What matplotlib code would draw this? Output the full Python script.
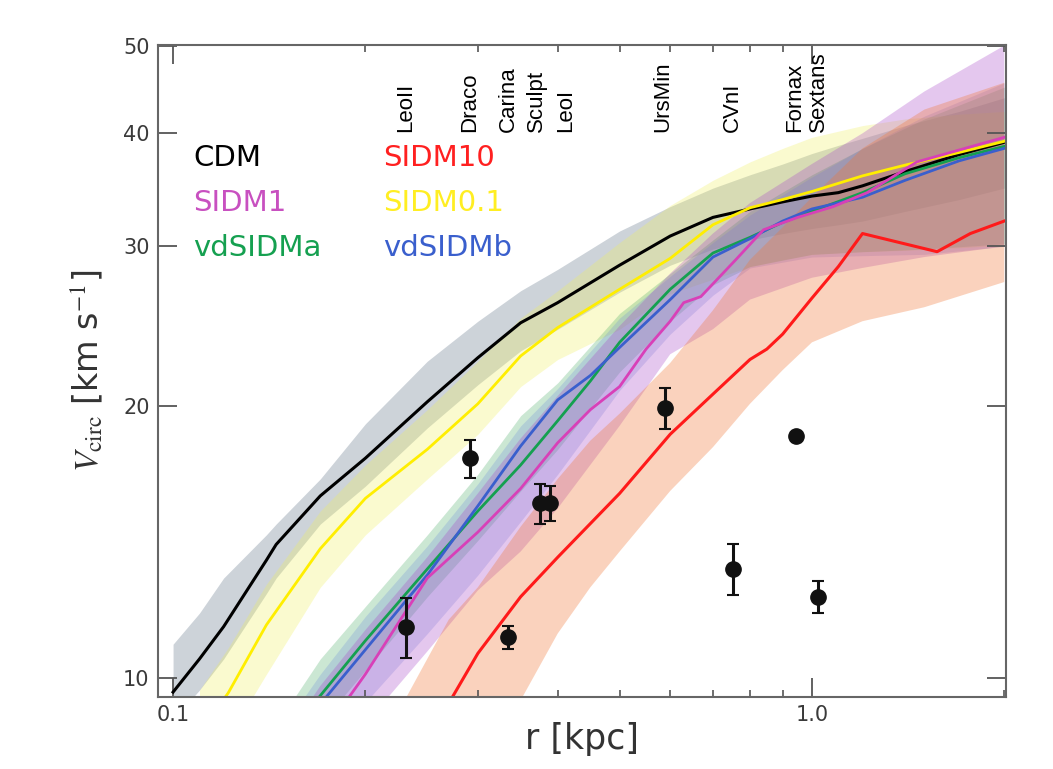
import matplotlib
matplotlib.use("Agg")
from matplotlib import pyplot as plt
from matplotlib.ticker import FixedLocator, FixedFormatter, NullLocator, NullFormatter

plt.rcParams['mathtext.fontset'] = 'stix'

# --- CDM ---
r_cdm = [0.1, 0.11, 0.12, 0.14, 0.145, 0.17, 0.2, 0.25, 0.3, 0.35, 0.4, 0.5, 0.6, 0.7, 0.8, 0.9, 1.0, 1.1, 1.2, 1.4, 1.7, 2.0]
v_cdm = [9.65, 10.5, 11.4, 13.5, 14.05, 15.9, 17.5, 20.2, 22.6, 24.7, 26.0, 28.6, 30.8, 32.3, 33.0, 33.6, 34.1, 34.4, 35.0, 36.3, 37.9, 39.1]
lo_cdm = [9.0, 9.7, 10.5, 12.4, 12.9, 14.8, 16.3, 18.9, 21.1, 23.0, 24.3, 26.7, 28.6, 29.8, 30.5, 31.0, 31.4, 31.7, 32.0, 32.8, 33.8, 34.8]
hi_cdm = [10.9, 11.8, 12.9, 14.4, 14.8, 16.6, 19.1, 22.4, 24.8, 26.8, 28.3, 31.2, 33.2, 34.8, 36.0, 37.0, 38.0, 38.8, 39.5, 40.8, 42.3, 43.8]

# --- SIDM0.1 ---
r_s01 = [0.11, 0.122, 0.14, 0.17, 0.2, 0.25, 0.3, 0.35, 0.4, 0.5, 0.6, 0.7, 0.8, 0.9, 1.0, 1.2, 1.4, 1.7, 2.0]
v_s01 = [8.7, 9.63, 11.45, 13.9, 15.8, 17.9, 20.1, 22.7, 24.4, 26.9, 29.1, 31.7, 33.1, 33.8, 34.5, 35.9, 36.9, 38.1, 39.2]
lo_s01 = [7.8, 8.6, 10.1, 12.6, 14.4, 16.6, 18.6, 21.0, 22.5, 24.3, 26.6, 27.6, 28.5, 29.0, 29.4, 29.6, 29.7, 29.9, 30.1]
hi_s01 = [9.7, 10.8, 12.7, 15.3, 17.2, 19.8, 22.4, 25.0, 26.8, 30.3, 33.3, 35.5, 37.2, 38.5, 39.6, 40.8, 41.5, 42.0, 42.3]

# --- SIDM10 ---
r_s10 = [0.25, 0.273, 0.3, 0.35, 0.4, 0.5, 0.6, 0.7, 0.8, 0.85, 0.9, 1.0, 1.1, 1.2, 1.57, 1.77, 2.0]
v_s10 = [8.8, 9.5, 10.65, 12.3, 13.6, 16.0, 18.6, 20.6, 22.5, 23.1, 24.0, 26.3, 28.5, 31.0, 29.6, 31.0, 32.0]
rb_s10 = [0.22, 0.27, 0.3, 0.35, 0.4, 0.45, 0.5, 0.6, 0.7, 0.8, 0.9, 1.0, 1.2, 1.5, 2.0]
lo_s10 = [6.4, 7.6, 8.2, 9.45, 11.2, 12.6, 13.8, 16.1, 18.0, 20.1, 21.9, 23.5, 24.8, 25.7, 27.4]
hi_s10 = [8.9, 11.6, 12.6, 14.7, 16.6, 18.3, 19.6, 22.3, 25.5, 29.0, 31.5, 34.0, 38.5, 42.5, 45.5]

# --- vdSIDMa ---
r_va = [0.15, 0.1687, 0.2, 0.25, 0.3, 0.35, 0.4, 0.45, 0.5, 0.6, 0.7, 0.8, 0.9, 1.0, 1.2, 1.4, 1.7, 2.0]
v_va = [8.4, 9.5, 11.0, 13.2, 15.3, 17.2, 19.25, 21.3, 23.5, 26.9, 29.5, 30.7, 31.9, 32.8, 34.4, 36.1, 37.6, 38.7]

# --- vdSIDMb ---
r_vb = [0.15, 0.173, 0.2, 0.25, 0.3, 0.35, 0.4, 0.45, 0.5, 0.6, 0.7, 0.8, 0.9, 1.0, 1.2, 1.4, 1.7, 2.0]
v_vb = [8.3, 9.5, 10.75, 13.0, 15.5, 18.05, 20.3, 21.6, 23.2, 26.2, 29.2, 30.6, 32.0, 33.0, 34.0, 35.5, 37.3, 38.5]

# --- SIDM1 ---
r_s1 = [0.17, 0.188, 0.2, 0.25, 0.3, 0.35, 0.4, 0.45, 0.5, 0.55, 0.6, 0.63, 0.67, 0.76, 0.84, 0.95, 1.08, 1.22, 1.46, 2.0]
v_s1 = [8.6, 9.5, 10.1, 12.9, 14.5, 16.2, 18.2, 19.8, 21.0, 23.1, 24.8, 26.0, 26.4, 29.0, 31.3, 32.3, 33.2, 34.4, 37.2, 39.6]

# bandas de vdSIDMa, vdSIDMb y SIDM1
r_band = [0.15, 0.17, 0.2, 0.25, 0.3, 0.35, 0.4, 0.5, 0.6, 0.7, 0.8, 1.0, 1.2, 1.5, 2.0]
lo_va = [7.8, 8.9, 10.2, 12.3, 14.2, 16.1, 17.9, 21.8, 24.8, 27.2, 28.5, 29.4, 29.6, 29.8, 30.2]
hi_va = [9.2, 10.5, 12.0, 14.4, 16.8, 19.5, 21.2, 25.3, 28.0, 30.5, 32.8, 36.0, 38.5, 41.5, 45.0]
lo_vb = [7.0, 8.0, 9.4, 11.2, 13.0, 14.9, 16.8, 20.8, 24.0, 26.5, 28.4, 29.2, 29.3, 29.4, 30.0]
hi_vb = [8.9, 10.1, 11.7, 14.0, 16.4, 19.0, 20.9, 25.0, 27.8, 30.3, 32.5, 35.8, 38.5, 41.8, 45.5]
lo_s1 = [7.0, 7.9, 8.9, 10.7, 12.5, 13.8, 15.4, 19.0, 22.8, 24.3, 26.2, 27.7, 28.4, 29.2, 30.0]
hi_s1 = [8.6, 9.8, 11.3, 13.6, 16.0, 18.4, 20.5, 24.5, 28.0, 31.0, 33.5, 37.0, 40.0, 44.5, 50.0]

# galaxias enanas
gal_names = ['LeoII', 'Draco', 'Carina', 'Sculpt', 'LeoI', 'UrsMin', 'CVnI', 'Fornax', 'Sextans']
gal_r = [0.2315, 0.2916, 0.3344, 0.3753, 0.389, 0.5888, 0.752, 0.944, 1.022]
gal_v = [11.4, 17.5, 11.1, 15.6, 15.6, 19.9, 13.2, 18.5, 12.3]
gal_err = [0.87, 0.85, 0.33, 0.8, 0.7, 1.05, 0.85, 0.15, 0.5]
label_r = [0.2315, 0.2916, 0.3344, 0.370, 0.412, 0.585, 0.75, 0.94, 1.025]

fig = plt.figure(figsize=(10.53, 7.69), dpi=100)
ax = fig.add_axes([0.150, 0.0936, 0.805, 0.848])
ax.set_xscale('log')
ax.set_yscale('log')

# bandas
ax.fill_between(r_cdm, lo_cdm, hi_cdm, color='#5a6e82', alpha=0.3, lw=0)
ax.fill_between(r_s01, lo_s01, hi_s01, color='#f0f060', alpha=0.3, lw=0)
ax.fill_between(r_band, lo_va, hi_va, color='#30a050', alpha=0.25, lw=0)
ax.fill_between(r_band, lo_vb, hi_vb, color='#6a8ad8', alpha=0.25, lw=0)
ax.fill_between(r_band, lo_s1, hi_s1, color='#a848c8', alpha=0.3, lw=0)
ax.fill_between(rb_s10, lo_s10, hi_s10, color='#f07838', alpha=0.33, lw=0)

# lineas
ax.plot(r_cdm, v_cdm, color='black', lw=2.2)
ax.plot(r_s01, v_s01, color='#ffee00', lw=2.0)
ax.plot(r_va, v_va, color='#14a050', lw=2.0)
ax.plot(r_vb, v_vb, color='#3a5fcd', lw=2.0)
ax.plot(r_s1, v_s1, color='#d840b8', lw=2.0)
ax.plot(r_s10, v_s10, color='#ff1a1a', lw=2.2)

ax.errorbar(gal_r, gal_v, yerr=gal_err, fmt='o', color='#111111', ms=11,
            elinewidth=2.2, capsize=4, capthick=1.5, zorder=10)

ax.set_xlim(0.0947, 2.01)
ax.set_ylim(9.53, 50.1)

ax.xaxis.set_major_locator(FixedLocator([0.1, 1.0]))
ax.xaxis.set_major_formatter(FixedFormatter(['0.1', '1.0']))
ax.xaxis.set_minor_locator(FixedLocator([0.2, 0.3, 0.4, 0.5, 0.6, 0.7, 0.8, 0.9, 2.0]))
ax.xaxis.set_minor_formatter(NullFormatter())
ax.yaxis.set_major_locator(FixedLocator([10, 20, 30, 40, 50]))
ax.yaxis.set_major_formatter(FixedFormatter(['10', '20', '30', '40', '50']))
ax.yaxis.set_minor_locator(NullLocator())

ax.tick_params(which='major', direction='in', length=14, width=1.3, color='#555555',
               top=True, right=True, labelsize=15, labelcolor='#3a3a3a', pad=6)
ax.tick_params(which='minor', direction='in', length=5, width=1.2, color='#555555',
               top=True, right=True)
for s in ax.spines.values():
    s.set_color('#666666')
    s.set_linewidth(1.5)

ax.set_xlabel('r [kpc]', fontsize=25, color='#333333')
ax.xaxis.set_label_coords(0.5, -0.038)
ax.set_ylabel(r'$V_{\rm circ}$ [km s$^{-1}$]', fontsize=24, color='#333333')
ax.yaxis.set_label_coords(-0.062, 0.5)

# leyenda como texto de color
ley = [('CDM', 'black', 0.0413, 0.8267), ('SIDM10', '#ff2020', 0.2653, 0.8267),
       ('SIDM1', '#c850c0', 0.0413, 0.7577), ('SIDM0.1', '#ffee22', 0.2653, 0.7577),
       ('vdSIDMa', '#15a050', 0.0413, 0.6887), ('vdSIDMb', '#3a5fcd', 0.2653, 0.6887)]
for txt, c, x, y in ley:
    ax.text(x, y, txt, color=c, fontsize=21, transform=ax.transAxes, ha='left', va='center')

for nom, rx in zip(gal_names, label_r):
    ax.text(rx, 0.8666, nom, rotation=90, ha='center', va='bottom', fontsize=16,
            family=['Liberation Sans', 'DejaVu Sans'], color='black',
            transform=ax.get_xaxis_transform())

fig.savefig('out.png', dpi=100, facecolor='white')
